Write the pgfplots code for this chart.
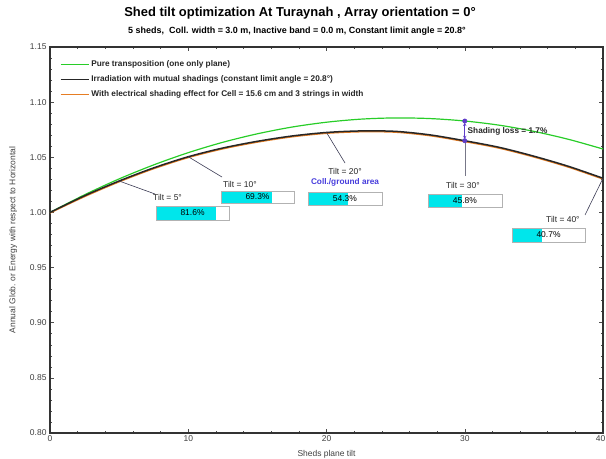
\documentclass[border=0pt]{standalone}
\usepackage{pgfplots}
\pgfplotsset{compat=1.18}
\usepackage{fontspec}
\setmainfont{Liberation Sans}
\definecolor{cgreen}{RGB}{40,205,40}
\definecolor{corange}{RGB}{230,125,35}
\definecolor{ccyan}{RGB}{0,230,235}
\definecolor{cptr}{RGB}{60,60,85}
\definecolor{cdot}{RGB}{95,60,200}
\definecolor{cblue}{RGB}{70,60,220}
\begin{document}
\begin{tikzpicture}
\useasboundingbox (0,0) rectangle (606bp,459bp);
\node[font=\bfseries\fontsize{13}{15}\selectfont] at (300bp,446bp) {Shed tilt optimization At Turaynah , Array orientation = 0°};
\node[font=\bfseries\fontsize{9}{10}\selectfont] at (297bp,428bp) {5 sheds,\ \ Coll. width = 3.0 m, Inactive band = 0.0 m, Constant limit angle = 20.8°};
\begin{axis}[
  at={(50bp,26bp)}, anchor=south west,
  width=553bp, height=386bp, scale only axis,
  xmin=0, xmax=40, ymin=0.80, ymax=1.15,
  xtick={0,10,20,30,40},
  xticklabels={0,10,20,30,{\makebox[0pt][c]{\hspace{-5bp}40}}},
  ytick={0.80,0.85,0.90,0.95,1.00,1.05,1.10,1.15},
  yticklabels={0.80,0.85,0.90,0.95,1.00,1.05,1.10,1.15},
  minor x tick num=4, minor y tick num=4,
  tick align=inside,
  major tick length=4bp, minor tick length=2bp,
  tick style={color=black!70, line width=0.5pt},
  axis line style={line width=1.3pt, color=black!80},
  tick label style={font=\fontsize{8.5}{9}\selectfont, color=black!75},
  xticklabel style={yshift=1bp},
  /pgf/number format/assume math mode=true,
  xlabel={Sheds plane tilt},
  ylabel={Annual Glob. or Energy with respect to Horizontal},
  xlabel style={font=\fontsize{8.5}{9}\selectfont, color=black!75, yshift=-2bp},
  ylabel style={font=\fontsize{8.5}{9}\selectfont, color=black!75, yshift=6bp},
  legend style={at={(axis description cs:0.012,0.975)}, anchor=north west, draw=none, fill=none,
    font=\bfseries\fontsize{8.3}{9}\selectfont, row sep=3.5bp, text=black!85},
  legend cell align=left,
  legend image code/.code={\draw[#1] (0bp,0bp) -- (28bp,0bp);},
  clip=false,
]
\addplot[cgreen, line width=1.2pt, smooth, forget plot] coordinates {
(0,1.0000)(2.5,1.0160)(5,1.0304)(7.5,1.0431)(10,1.0542)(12.5,1.0636)(15,1.0713)(17.5,1.0774)
(20,1.0818)(22.5,1.0846)(25,1.0857)(27.5,1.0851)(30,1.0829)(32.5,1.0791)(35,1.0735)(37.5,1.0663)(40,1.0575)};
\addplot[corange, line width=1.3pt, smooth, forget plot] coordinates {
(0,0.9995)(2.5,1.0143)(5,1.0277)(7.5,1.0396)(10,1.0497)(12.5,1.0576)(15,1.0637)(17.5,1.0685)
(20,1.0717)(22.5,1.0731)(25,1.0727)(27.5,1.0695)(30,1.0642)(32.5,1.0582)(35,1.0502)(37.5,1.0410)(40,1.0302)};
\addplot[black!85, line width=1.5pt, smooth, forget plot] coordinates {
(0,1.0000)(2.5,1.0151)(5,1.0285)(7.5,1.0404)(10,1.0505)(12.5,1.0584)(15,1.0645)(17.5,1.0693)
(20,1.0725)(22.5,1.0739)(25,1.0735)(27.5,1.0703)(30,1.0650)(32.5,1.0590)(35,1.0510)(37.5,1.0418)(40,1.0310)};
\addlegendimage{cgreen, line width=1.2pt}
\addlegendentry{Pure transposition (one only plane)}
\addlegendimage{black!85, line width=1.5pt}
\addlegendentry{Irradiation with mutual shadings (constant limit angle = 20.8°)}
\addlegendimage{corange, line width=1.3pt}
\addlegendentry{With electrical shading effect for Cell = 15.6 cm and 3 strings in width}
% pointers
\draw[cptr, line width=0.6pt] (axis cs:5,1.0285) -- (axis cs:7.6,1.0167);
\draw[cptr, line width=0.6pt] (axis cs:10,1.0505) -- (axis cs:12.44,1.0321);
\draw[cptr, line width=0.6pt] (axis cs:20,1.0725) -- (axis cs:21.34,1.0448);
\draw[cptr, line width=0.6pt] (axis cs:40,1.0310) -- (axis cs:38.7,0.9977);
\draw[cptr!70, line width=0.5pt] (axis cs:30,1.0650) -- (axis cs:30,1.033);
\draw[cdot, line width=0.6pt, <->, >=stealth] (axis cs:30,1.0815) -- (axis cs:30,1.0664);
\addplot[only marks, mark=*, mark size=2.2bp, color=cdot, forget plot] coordinates {(30,1.0829)(30,1.0650)};
% labels
\begin{scope}[every node/.style={font=\fontsize{8.5}{9}\selectfont, text=black!85, inner sep=0pt}]
\node at (axis cs:8.5,1.0140) {Tilt = 5°};
\node at (axis cs:13.74,1.0258) {Tilt = 10°};
\node at (axis cs:21.34,1.0367) {Tilt = 20°};
\node[text=cblue, font=\bfseries\fontsize{8.3}{9}\selectfont] at (axis cs:21.34,1.0276) {Coll./ground area};
\node at (axis cs:29.87,1.0240) {Tilt = 30°};
\node at (axis cs:37.1,0.9940) {Tilt = 40°};
\node[anchor=west, font=\bfseries\fontsize{8.3}{9}\selectfont] at (axis cs:30.2,1.0733) {Shading loss = 1.7\%};
\end{scope}
% boxes
\newcommand{\gbox}[6]{%
 \fill[ccyan] (axis cs:#1,#3) rectangle (axis cs:#5,#4);
 \draw[black!30, line width=0.4pt] (axis cs:#1,#3) rectangle (axis cs:#2,#4);
 \node[font=\fontsize{8.5}{9}\selectfont, inner sep=0pt] at (axis cs:{(#1+#2)/2},{(#3+#4)/2}) {#6};}
\gbox{7.67}{12.95}{1.0058}{0.9931}{11.98}{81.6\%}
\gbox{12.37}{17.65}{1.0194}{1.0086}{16.03}{69.3\%}
\gbox{18.66}{24.01}{1.0185}{1.0067}{21.57}{54.3\%}
\gbox{27.34}{32.69}{1.0167}{1.0049}{29.79}{45.8\%}
\gbox{33.42}{38.70}{0.9859}{0.9732}{35.57}{40.7\%}
\end{axis}
\end{tikzpicture}
\end{document}
